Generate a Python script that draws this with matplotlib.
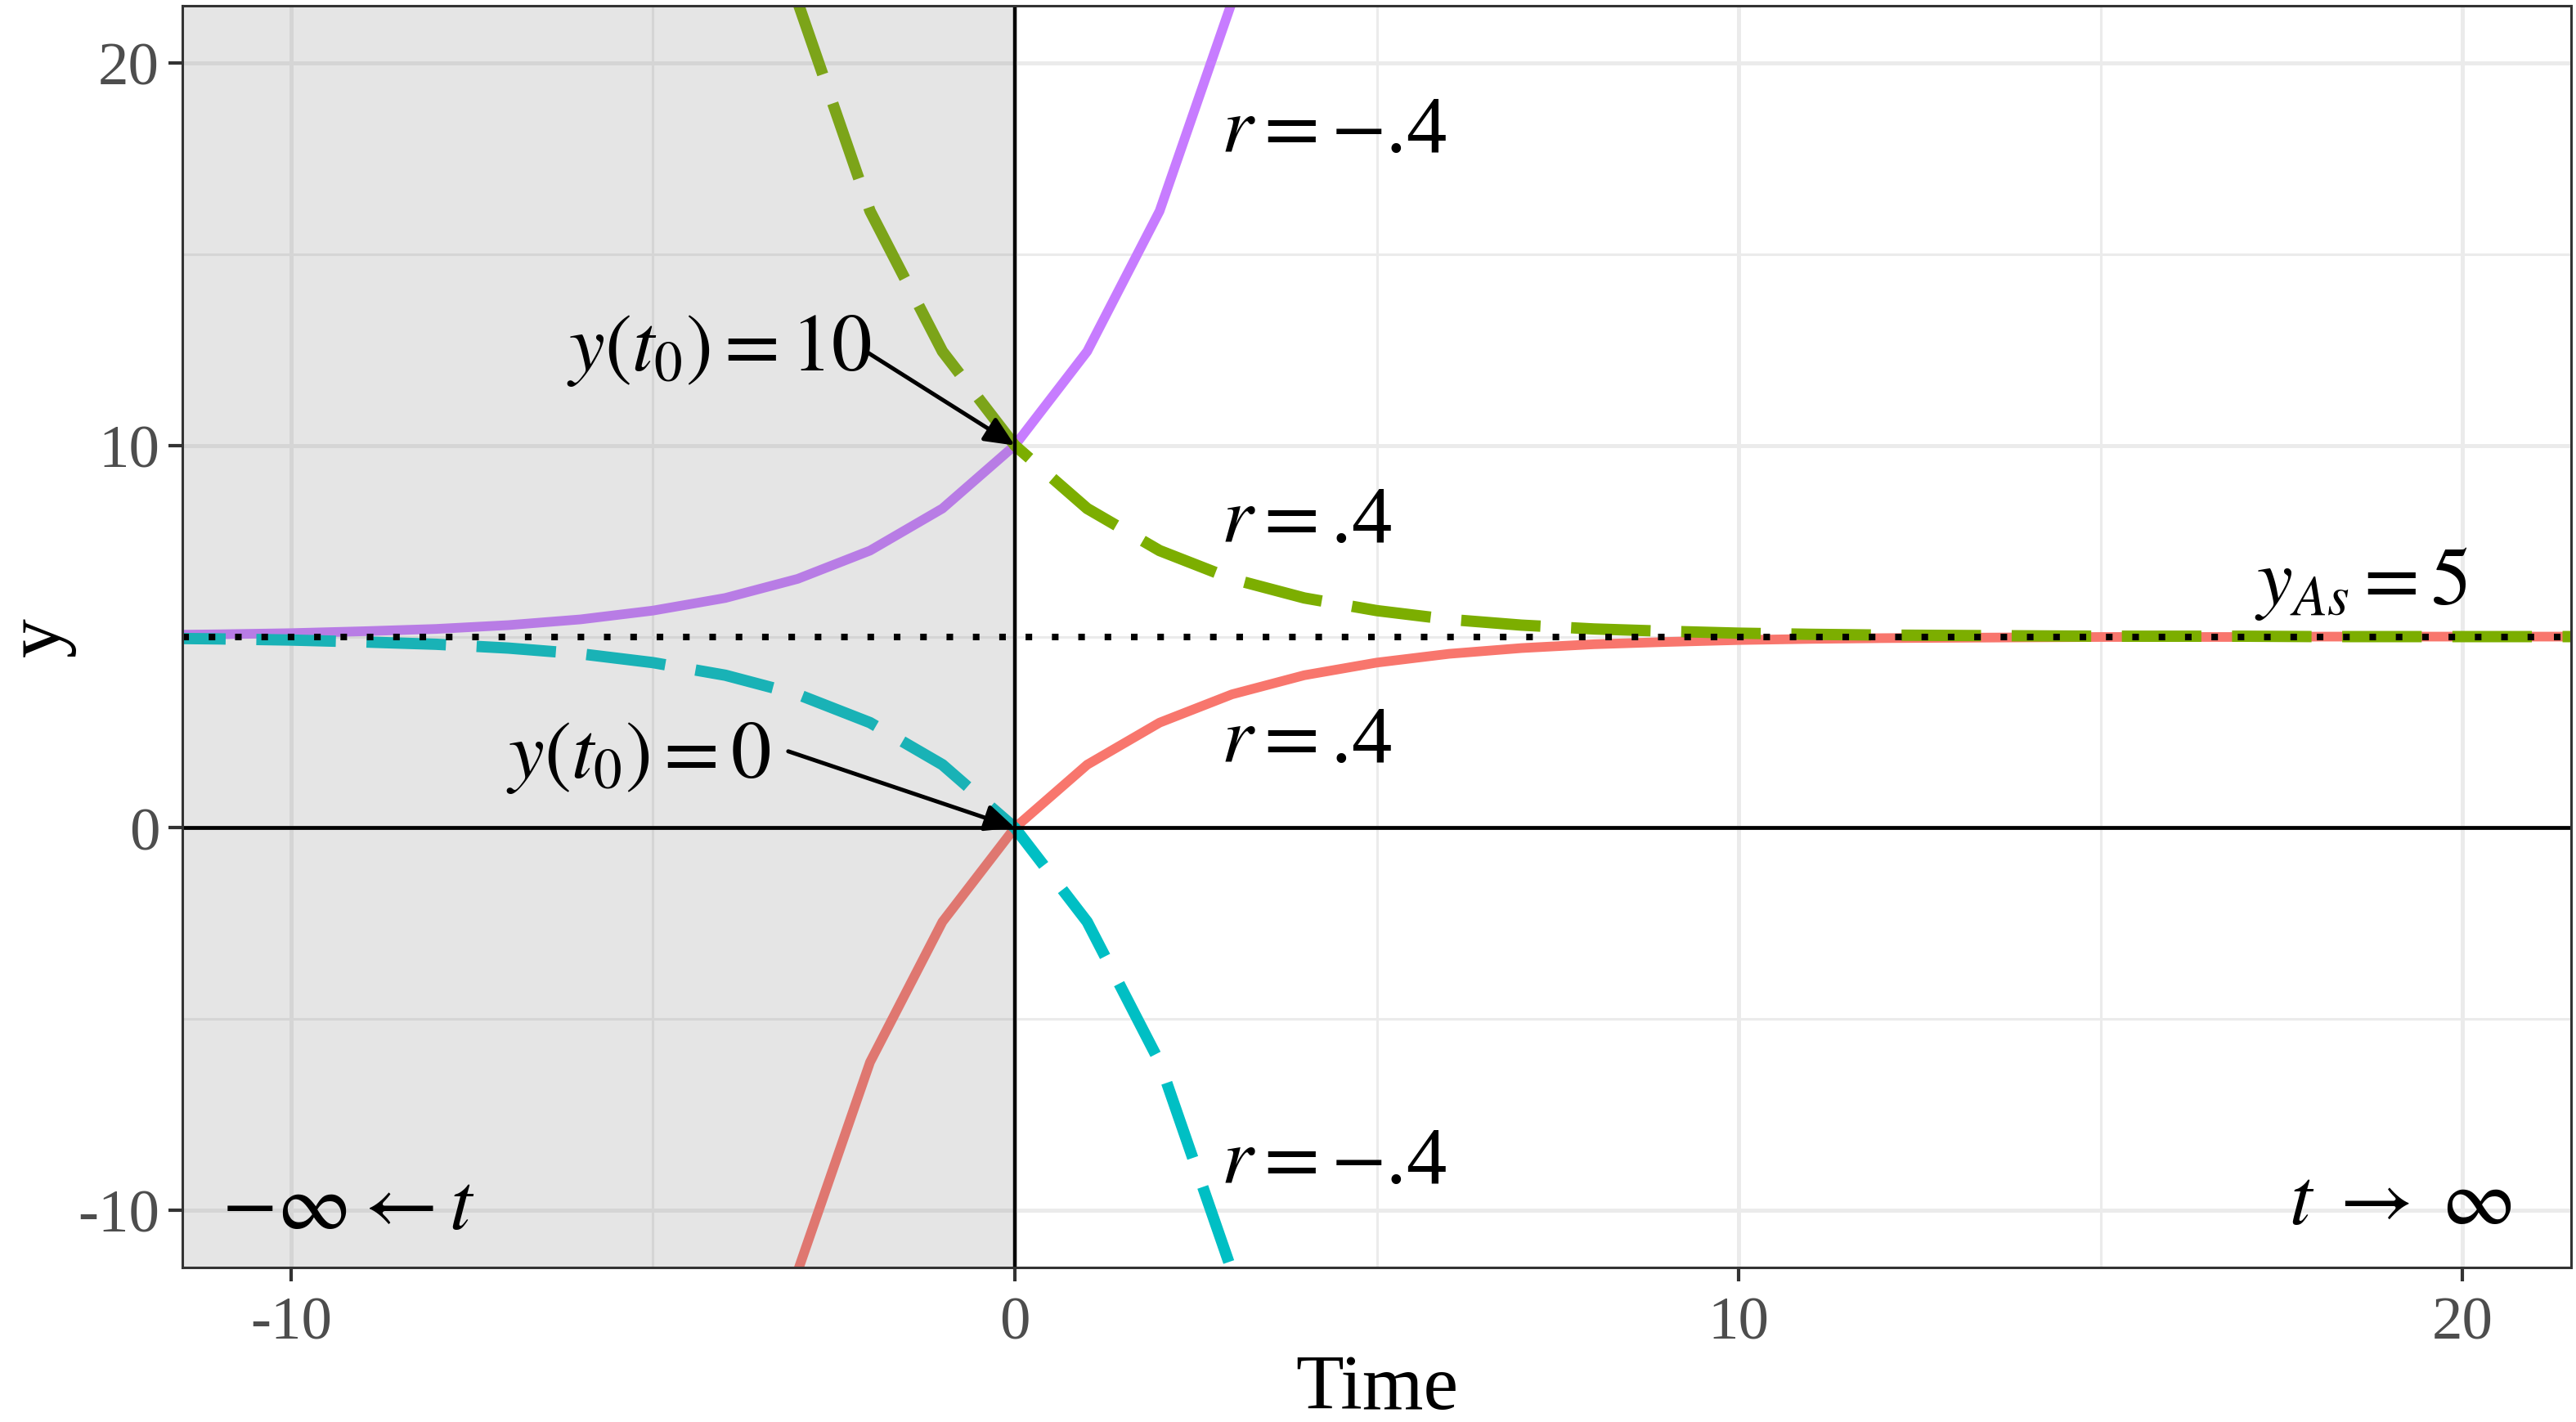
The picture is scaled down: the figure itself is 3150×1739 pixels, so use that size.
import matplotlib
matplotlib.use('Agg')
import matplotlib.pyplot as plt

# values, one point per time step
t_left = list(range(-12, 5))
grow_from_10 = [5.04, 5.06, 5.09, 5.14, 5.20, 5.30, 5.45, 5.68, 6.01, 6.51, 7.25, 8.35,
                10.0, 12.46, 16.13, 21.60, 29.77]
grow_from_0 = [4.96, 4.94, 4.91, 4.86, 4.80, 4.70, 4.55, 4.32, 3.99, 3.49, 2.75, 1.65,
               0.0, -2.46, -6.13, -11.60, -19.77]

t_right = list(range(-4, 23))
decay_from_10 = [29.77, 21.60, 16.13, 12.46, 10.0, 8.35, 7.25, 6.51, 6.01, 5.68, 5.45, 5.30,
                 5.20, 5.14, 5.09, 5.06, 5.04, 5.03, 5.02, 5.01, 5.01, 5.01, 5.00, 5.00,
                 5.00, 5.00, 5.00]
decay_from_0 = [-19.77, -11.60, -6.13, -2.46, 0.0, 1.65, 2.75, 3.49, 3.99, 4.32, 4.55, 4.70,
                4.80, 4.86, 4.91, 4.94, 4.96, 4.97, 4.98, 4.99, 4.99, 4.99, 5.00, 5.00,
                5.00, 5.00, 5.00]

asymptote = 5
major_ticks = [-10, 0, 10, 20]
minor_ticks = [-5, 5, 15]

plt.rcParams['mathtext.fontset'] = 'stix'
plt.rcParams['font.family'] = ['Liberation Serif', 'DejaVu Serif']
plt.rcParams['axes.unicode_minus'] = False

fig = plt.figure(figsize=(31.5, 17.4), dpi=100)
ax = fig.add_axes([0.0708, 0.1086, 0.9273, 0.8868])

solid_lw = 8.5
dash_lw = 10

ax.plot(t_right, decay_from_0, color='#F8766D', lw=solid_lw, zorder=2, solid_capstyle='butt')
ax.plot(t_left, grow_from_10, color='#C77CFF', lw=solid_lw, zorder=2, solid_capstyle='butt')
ax.plot(t_left, grow_from_0, color='#00BFC4', lw=dash_lw, zorder=2,
        dashes=(7.0, 2.7), dash_capstyle='butt')
ax.plot(t_right, decay_from_10, color='#7CAE00', lw=dash_lw, zorder=2,
        dashes=(7.0, 2.7), dash_capstyle='butt')

# shaded past
ax.axvspan(-20, 0, color='#7f7f7f', alpha=0.2, lw=0, zorder=3)

ax.axhline(0, color='black', lw=3.4, zorder=4)
ax.axvline(0, color='black', lw=3.2, zorder=4)
ax.axhline(asymptote, color='black', lw=5.8, dashes=(1, 3), dash_capstyle='butt', zorder=4)

ax.set_xlim(-11.5, 21.5)
ax.set_ylim(-11.5, 21.5)
ax.set_xticks(major_ticks)
ax.set_yticks(major_ticks)
ax.set_xticks(minor_ticks, minor=True)
ax.set_yticks(minor_ticks, minor=True)
ax.grid(which='major', color='#ebebeb', lw=3.6, zorder=0)
ax.grid(which='minor', color='#ebebeb', lw=2.2, zorder=0)
ax.set_axisbelow(True)
ax.tick_params(which='major', length=12, width=3, color='#333333', labelsize=54,
               labelcolor='#4d4d4d', pad=8)
ax.tick_params(axis='x', which='major', pad=13)
ax.tick_params(which='minor', length=0)
for s in ax.spines.values():
    s.set_color('#333333')
    s.set_linewidth(2.2)
    s.set_zorder(6)

ax.set_xlabel('Time', fontsize=69, labelpad=2)
ax.set_ylabel('y', fontsize=69, labelpad=2)

fs = 71
ax.text(2.85, 18.2, r'$r=-$.4', fontsize=fs, ha='left', va='center', zorder=5)
ax.text(2.85, 8.0, r'$r=$.4', fontsize=fs, ha='left', va='center', zorder=5)
ax.text(2.85, 2.26, r'$r=$.4', fontsize=fs, ha='left', va='center', zorder=5)
ax.text(2.85, -8.76, r'$r=-$.4', fontsize=fs, ha='left', va='center', zorder=5)
ax.text(17.13, 6.4, r'$y_{As}=5$', fontsize=fs, ha='left', va='center', zorder=5)
ax.text(17.6, -9.83, r'$t\;\rightarrow\;\infty$', fontsize=fs, ha='left', va='center', zorder=5)
ax.text(-10.96, -9.96, r'$-\infty\leftarrow t$', fontsize=fs, ha='left', va='center', zorder=5)
ax.text(-6.19, 12.5, r'$y(t_0)=10$', fontsize=fs, ha='left', va='center', zorder=5)
ax.text(-7.03, 1.84, r'$y(t_0)=0$', fontsize=fs, ha='left', va='center', zorder=5)

arrow = dict(arrowstyle='-|>,head_length=1.0,head_width=0.45', color='black', lw=3.6,
             shrinkA=0, shrinkB=0, mutation_scale=22)
ax.annotate('', xy=(0, 10), xytext=(-2.05, 12.45), arrowprops=arrow, zorder=5)
ax.annotate('', xy=(0, 0), xytext=(-3.13, 2.0), arrowprops=arrow, zorder=5)

fig.savefig('out.png', dpi=100)
